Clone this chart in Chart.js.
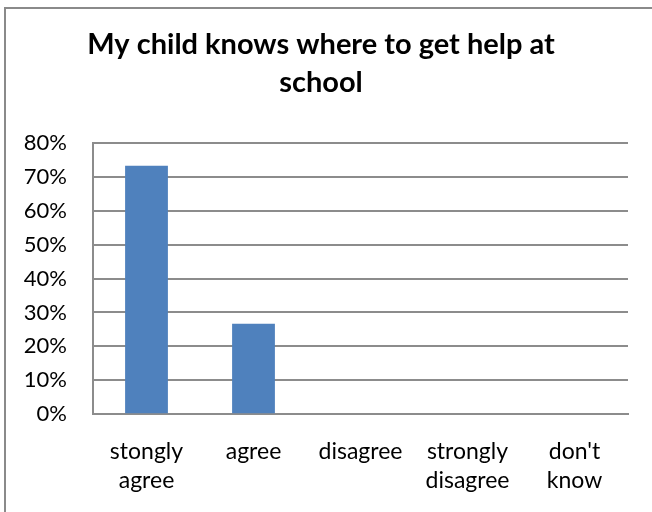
<!DOCTYPE html>
<html>
<head>
<meta charset="utf-8">
<script src="https://cdn.jsdelivr.net/npm/chart.js@4"></script>
<style>
  body { margin: 0; background: #fff; overflow: hidden; }
  #frame { position: absolute; left: 4px; top: 7px; width: 700px; height: 600px;
           border-left: 2px solid #8a8a8a; border-top: 2px solid #8a8a8a; }
  #wrap { position: absolute; left: 0; top: 0; width: 652px; height: 512px; }
</style>
</head>
<body>
<div id="frame"></div>
<div id="wrap"><canvas id="myBarChart" width="652" height="512"></canvas></div>
<script>
var categories = [['stongly', 'agree'], 'agree', 'disagree', ['strongly', 'disagree'], ["don't", 'know']];
var values = [0.733, 0.267, 0, 0, 0];
var yTicks = ['0%', '10%', '20%', '30%', '40%', '50%', '60%', '70%', '80%'];

var ctx = document.getElementById("myBarChart");
var font = "Lato, 'Open Sans', sans-serif";

var myBarChart = new Chart(ctx, {
    type: 'bar',
    data: {
        labels: categories,
        datasets: [{
            label: 'Series 1',
            data: values,
            backgroundColor: '#4F81BD',
            borderWidth: 0,
            barPercentage: 0.4,
            categoryPercentage: 1
        }]
    },
    options: {
        responsive: false,
        animation: false,
        layout: { padding: { left: 14, right: 24, top: 26, bottom: -6 } },
        plugins: {
            legend: { display: false },
            tooltip: { enabled: false },
            title: {
                display: true,
                text: ['My child knows where to get help at', 'school'],
                color: '#000',
                font: { family: font, size: 29, weight: 'bold', lineHeight: 1.31 },
                padding: { top: 0, bottom: 41 }
            }
        },
        scales: {
            y: {
                min: 0,
                max: 0.8,
                afterFit: function(scale) {
                    scale.width = 79;
                },
                ticks: {
                    stepSize: 0.1,
                    color: '#000',
                    padding: 26,
                    font: { family: font, size: 22 },
                    callback: function(val, index) {
                        return yTicks[index];
                    }
                },
                grid: { color: '#8c8c8c', lineWidth: 2, drawTicks: false },
                border: { color: '#8c8c8c', width: 2 }
            },
            x: {
                ticks: {
                    color: '#000',
                    padding: 22,
                    maxRotation: 0,
                    autoSkip: false,
                    font: { family: font, size: 23, lineHeight: 1.3 }
                },
                grid: { display: false, drawTicks: false },
                border: { color: '#8c8c8c', width: 2 }
            }
        }
    }
});
</script>
</body>
</html>
